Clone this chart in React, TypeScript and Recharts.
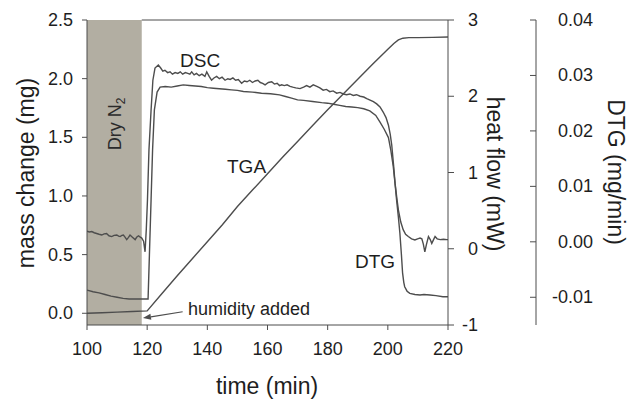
import React from "react";
import { ComposedChart, Line, XAxis, YAxis, ReferenceArea, ReferenceLine } from "recharts";

// axis ticks
const timeTicks = [100, 120, 140, 160, 180, 200, 220];
const massTicks = [0, 0.5, 1, 1.5, 2, 2.5];
const heatTicks = [-1, 0, 1, 2, 3];
const dtgTicks = [-0.01, 0, 0.01, 0.02, 0.03, 0.04];

// dry N2 purge period (min)
const dryPeriod = [100, 118.2];

// TGA: [time (min), mass change (mg)]
const tgaCurve = [
  [100, 0.0], [105, 0.005], [110, 0.01], [115, 0.015], [120, 0.02],
  [125, 0.17], [130, 0.32], [135, 0.465], [140, 0.61], [145, 0.755],
  [150, 0.91], [155, 1.05], [160, 1.19], [165, 1.33], [170, 1.465],
  [175, 1.6], [180, 1.735], [185, 1.865], [190, 1.995], [195, 2.125],
  [200, 2.25], [202, 2.3], [203.5, 2.33], [205, 2.345], [207, 2.35],
  [210, 2.35], [215, 2.352], [220, 2.355],
];

// DSC: [time (min), heat flow (mW)]
const dscCurve = [
  [100, 0.23], [100.8, 0.22], [101.6, 0.225], [102.4, 0.21], [103.2, 0.2], [104, 0.19],
  [104.9, 0.18], [105.7, 0.195], [106.5, 0.2], [107.3, 0.17], [108.2, 0.16], [109, 0.175],
  [109.9, 0.18], [110.5, 0.165], [111, 0.16], [111.6, 0.175], [112.1, 0.18], [112.7, 0.15],
  [113.2, 0.12], [113.8, 0.15], [114.3, 0.18], [115.1, 0.15], [116, 0.12], [116.5, 0.15],
  [117.1, 0.17], [117.6, 0.155], [118.2, 0.14], [118.8, 0.1], [119.3, -0.04], [119.7, 0.25],
  [120.1, 0.64], [120.6, 1.3], [121.3, 1.82], [121.9, 2.21], [122.6, 2.37], [123.7, 2.41],
  [124.5, 2.37], [125.2, 2.33], [125.9, 2.34], [126.8, 2.31], [127.6, 2.32], [128.4, 2.29],
  [129.3, 2.31], [130.2, 2.3], [131, 2.32], [131.8, 2.29], [132.7, 2.31], [133.5, 2.3],
  [134.2, 2.29], [134.8, 2.32], [135.6, 2.28], [136.4, 2.3], [137.3, 2.27], [138.2, 2.29],
  [139.2, 2.26], [139.8, 2.32], [140.6, 2.26], [141.4, 2.21], [142.2, 2.24], [143.1, 2.26],
  [144, 2.23], [144.9, 2.25], [145.9, 2.21], [146.8, 2.23], [147.6, 2.22], [148.5, 2.24],
  [149.4, 2.21], [150.3, 2.22], [151.4, 2.17], [152.3, 2.2], [153.2, 2.19], [154.1, 2.21],
  [155, 2.18], [155.9, 2.2], [156.8, 2.21], [157.6, 2.18], [158.4, 2.17], [159.2, 2.15],
  [160.3, 2.18], [161.4, 2.19], [162.3, 2.16], [163.2, 2.17], [164, 2.14], [164.7, 2.15],
  [165.6, 2.14], [166.5, 2.15], [167.5, 2.13], [168.4, 2.12], [169.4, 2.11], [170.8, 2.1],
  [172, 2.12], [173, 2.14], [174.1, 2.12], [175.2, 2.15], [176.4, 2.13], [177.4, 2.11],
  [178.5, 2.08], [179.6, 2.09], [180.7, 2.06], [181.8, 2.07], [183, 2.04], [184.1, 2.05],
  [185.2, 2.03], [186.3, 2.02], [187.4, 2.03], [188.5, 2.01], [189.6, 2.02], [190.8, 2.0],
  [192, 1.99], [193, 1.97], [194.1, 1.95], [195.2, 1.93], [196.3, 1.9], [197.4, 1.86],
  [198.5, 1.79], [199.4, 1.72], [200.2, 1.62], [200.8, 1.5], [201.3, 1.36], [201.9, 1.1],
  [202.4, 0.86], [203, 0.66], [203.5, 0.51], [204.3, 0.35], [205.1, 0.25], [205.9, 0.19],
  [206.8, 0.16], [207.9, 0.13], [209, 0.115], [209.9, 0.13], [210.7, 0.14], [211.3, 0.13],
  [211.8, 0.06], [212.3, -0.04], [212.8, 0.05], [213.5, 0.16], [214.1, 0.12], [214.6, 0.07],
  [215.2, 0.12], [215.7, 0.16], [216.4, 0.13], [217.4, 0.12], [218.5, 0.125], [219.6, 0.12],
  [220, 0.12],
];

// DTG: [time (min), rate (mg/min)]
const dtgCurve = [
  [100, -0.0087], [102, -0.009], [104, -0.0092], [106, -0.0095], [108, -0.0098], [110, -0.01],
  [112, -0.0102], [114, -0.0103], [116, -0.0103], [118, -0.0103], [120.3, -0.0103],
  [120.8, -0.0014], [121.3, 0.0076], [121.8, 0.0166], [122.4, 0.0238], [123.3, 0.027],
  [124.3, 0.0279], [126, 0.028], [128, 0.0279], [130, 0.0281], [132, 0.0283], [134, 0.0282],
  [136, 0.0281], [138, 0.028], [140, 0.0278], [142, 0.0277], [144, 0.0276], [146, 0.0275],
  [148, 0.0274], [150, 0.0273], [152, 0.0271], [155, 0.027], [158, 0.0268], [161, 0.0267],
  [164, 0.0265], [166, 0.0262], [168, 0.0259], [170, 0.0256], [172, 0.0255], [175, 0.0253],
  [178, 0.0251], [180, 0.025], [182, 0.0248], [184, 0.0246], [186, 0.0244], [188, 0.0243],
  [190, 0.0242], [192, 0.024], [194, 0.0236], [196, 0.0228], [197.4, 0.0216], [198.8, 0.0203],
  [200.2, 0.0188], [201, 0.0165], [201.8, 0.0136], [202.4, 0.0105], [202.9, 0.0076],
  [203.5, 0.0045], [204, 0.0016], [204.5, -0.0022], [204.9, -0.0056], [205.3, -0.0073],
  [205.6, -0.0081], [206.4, -0.0089], [207.3, -0.0093], [209, -0.0095], [210.7, -0.0096],
  [212, -0.0095], [214, -0.0096], [216, -0.0097], [218.3, -0.0099], [220, -0.0099],
];

// "humidity added" pointer: [time, mass] tail and head
const humidityArrow = [
  [131.8, 0.013],
  [118.6, -0.041],
];

const toRows = (pts: number[][]) => pts.map(([t, v]) => ({ t, v }));

const INK = "#1e1e1e";
const LINE = "#4d4d4d";
const FONT = 'Arial, "Liberation Sans", Helvetica, sans-serif';

// axis ids: right-hand axes are stacked outward in id order
const MASS = "a_mass";
const HEAT = "b_heat";
const DTG = "c_dtg";

const MassTick = (props: any) => {
  const { x, y, payload } = props;
  return (
    <text x={x} y={y} dy={6} textAnchor="end" fontSize={18} fill={INK} fontFamily={FONT}>
      {payload.value.toFixed(1)}
    </text>
  );
};

const HeatTick = (props: any) => {
  const { x, y, payload } = props;
  return (
    <text x={x + 22} y={y} dy={6} textAnchor="end" fontSize={18} fill={INK} fontFamily={FONT}>
      {payload.value}
    </text>
  );
};

// DTG axis has its tick marks pointing inward (left), labels to the right
const DtgTick = (props: any) => {
  const { x, y, payload } = props;
  return (
    <g>
      <line x1={x - 6} x2={x} y1={y} y2={y} stroke={LINE} strokeWidth={1} />
      <text x={x + 57} y={y} dy={6} textAnchor="end" fontSize={18} fill={INK} fontFamily={FONT}>
        {payload.value.toFixed(2)}
      </text>
    </g>
  );
};

const DryLabel = (props: any) => {
  const vb = props.viewBox;
  if (!vb) return null;
  const cx = vb.x + vb.width / 2 + 1;
  const cy = 124;
  return (
    <text transform={`translate(${cx + 6} ${cy}) rotate(-90)`} textAnchor="middle" fontSize={18} fill="#2a2a2a" fontFamily={FONT}>
      Dry N<tspan fontSize={12} dy={4}>2</tspan>
    </text>
  );
};

const ArrowShape = (props: any) => {
  const { x1, y1, x2, y2 } = props;
  if (x1 == null) return null;
  const ang = Math.atan2(y2 - y1, x2 - x1);
  const L = 8;
  const W = 3;
  const bx = x2 - L * Math.cos(ang);
  const by = y2 - L * Math.sin(ang);
  const px = -Math.sin(ang) * W;
  const py = Math.cos(ang) * W;
  return (
    <g>
      <line x1={x1} y1={y1} x2={bx} y2={by} stroke={LINE} strokeWidth={1.2} />
      <polygon points={`${x2},${y2} ${bx + px},${by + py} ${bx - px},${by - py}`} fill={LINE} />
    </g>
  );
};

export default function App() {
  return (
    <div style={{ position: "absolute", left: 0, top: 0, width: 628, height: 399, background: "#fff" }}>
      <ComposedChart
        width={628}
        height={399}
        margin={{ top: 20, right: 12, bottom: 0, left: 0 }}
        style={{ fontFamily: FONT }}
      >
        <XAxis
          type="number"
          dataKey="t"
          domain={[100, 220]}
          ticks={timeTicks}
          allowDataOverflow
          height={74}
          tickSize={5}
          tickMargin={12}
          stroke={LINE}
          tick={{ fill: INK, fontSize: 18, fontFamily: FONT }}
        />
        <YAxis
          yAxisId={MASS}
          orientation="left"
          width={87}
          domain={[-0.1, 2.5]}
          ticks={massTicks}
          allowDataOverflow
          tickSize={5}
          tickMargin={9}
          stroke={LINE}
          tick={<MassTick />}
        />
        <YAxis
          yAxisId={HEAT}
          orientation="right"
          width={88}
          domain={[-1, 3]}
          ticks={heatTicks}
          allowDataOverflow
          tickSize={6}
          tickMargin={2}
          stroke={LINE}
          tick={<HeatTick />}
        />
        <YAxis
          yAxisId={DTG}
          orientation="right"
          width={80}
          domain={[-0.015, 0.04]}
          ticks={dtgTicks}
          allowDataOverflow
          tickSize={0}
          tickMargin={0}
          tickLine={false}
          stroke={LINE}
          tick={<DtgTick />}
        />

        <ReferenceArea
          yAxisId={MASS}
          x1={dryPeriod[0]}
          x2={dryPeriod[1]}
          y1={-0.1}
          y2={2.5}
          fill="#b2aea2"
          fillOpacity={1}
          stroke="none"
          label={<DryLabel />}
        />
        <ReferenceLine
          yAxisId={MASS}
          segment={[{ x: dryPeriod[1], y: 2.5 }, { x: 220, y: 2.5 }]}
          stroke={LINE}
          strokeWidth={1}
        />

        <Line
          yAxisId={MASS}
          data={toRows(tgaCurve)}
          dataKey="v"
          type="linear"
          stroke={LINE}
          strokeWidth={1.4}
          dot={false}
          isAnimationActive={false}
        />
        <Line
          yAxisId={HEAT}
          data={toRows(dscCurve)}
          dataKey="v"
          type="linear"
          stroke={LINE}
          strokeWidth={1.4}
          dot={false}
          isAnimationActive={false}
        />
        <Line
          yAxisId={DTG}
          data={toRows(dtgCurve)}
          dataKey="v"
          type="linear"
          stroke={LINE}
          strokeWidth={1.4}
          dot={false}
          isAnimationActive={false}
        />

        <ReferenceLine
          yAxisId={MASS}
          segment={humidityArrow.map(([x, y]) => ({ x, y }))}
          ifOverflow="visible"
          shape={<ArrowShape />}
        />

        <text x={180} y={67} fontSize={19} fill={INK} fontFamily={FONT}>DSC</text>
        <text x={227} y={173} fontSize={19} fill={INK} fontFamily={FONT}>TGA</text>
        <text x={355} y={268} fontSize={19} fill={INK} fontFamily={FONT}>DTG</text>
        <text x={188} y={315} fontSize={18} fill={INK} fontFamily={FONT}>humidity added</text>

        <text x={267} y={394} textAnchor="middle" fontSize={23} fill={INK} fontFamily={FONT}>time (min)</text>
        <text transform="translate(34 173) rotate(-90)" textAnchor="middle" fontSize={23} fill={INK} fontFamily={FONT}>
          mass change (mg)
        </text>
        <text transform="translate(487 174) rotate(90)" textAnchor="middle" fontSize={23} fill={INK} fontFamily={FONT}>
          heat flow (mW)
        </text>
        <text transform="translate(608 172) rotate(90)" textAnchor="middle" fontSize={23} fill={INK} fontFamily={FONT}>
          DTG (mg/min)
        </text>
      </ComposedChart>
    </div>
  );
}
